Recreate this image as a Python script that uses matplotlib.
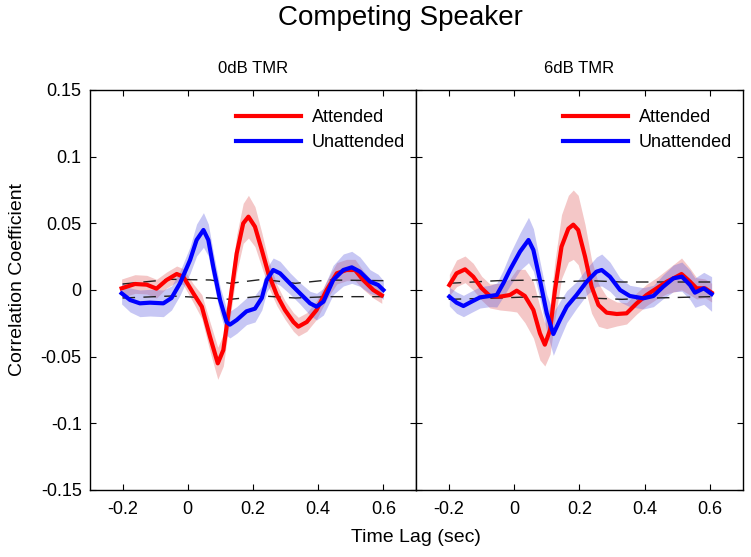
import numpy as np
import matplotlib
matplotlib.use('Agg')
import matplotlib.pyplot as plt

plt.rcParams['font.family'] = ['Liberation Sans', 'DejaVu Sans']

# 0dB TMR panel
t_att_0 = [-0.203, -0.162, -0.126, -0.096, -0.065, -0.034, -0.014, 0.017, 0.043, 0.068,
           0.092, 0.109, 0.129, 0.150, 0.170, 0.186, 0.206, 0.227, 0.247, 0.273,
           0.298, 0.324, 0.339, 0.365, 0.395, 0.426, 0.457, 0.487, 0.513, 0.538,
           0.569, 0.595]
att_0 = [0.00125, 0.0045, 0.004, 0.001, 0.0075, 0.012, 0.010, -0.0025, -0.0125, -0.035,
         -0.055, -0.045, -0.01, 0.0275, 0.05, 0.055, 0.0475, 0.03, 0.0125, -0.00375,
         -0.015, -0.024, -0.0275, -0.024, -0.015, 0.0, 0.0125, 0.015, 0.015, 0.0075,
         0.0, -0.004]
att_0_err = [0.007, 0.007, 0.007, 0.007, 0.006, 0.006, 0.006, 0.007, 0.009, 0.011,
             0.012, 0.012, 0.012, 0.014, 0.015, 0.016, 0.015, 0.013, 0.01, 0.008,
             0.007, 0.007, 0.007, 0.007, 0.007, 0.007, 0.008, 0.008, 0.008, 0.007,
             0.006, 0.006]

t_un_0 = [-0.203, -0.177, -0.147, -0.116, -0.075, -0.05, -0.024, 0.007, 0.027, 0.048,
          0.063, 0.078, 0.099, 0.119, 0.129, 0.150, 0.18, 0.206, 0.227, 0.242,
          0.262, 0.283, 0.313, 0.344, 0.375, 0.395, 0.416, 0.446, 0.477, 0.503,
          0.528, 0.559, 0.584, 0.6]
un_0 = [-0.0025, -0.0075, -0.01, -0.0095, -0.01, -0.006, 0.005, 0.0225, 0.0375, 0.045,
        0.0375, 0.0175, -0.0075, -0.024, -0.026, -0.0225, -0.016, -0.014, -0.006, 0.0075,
        0.015, 0.0125, 0.005, -0.0025, -0.01, -0.0125, -0.00875, 0.0075, 0.015, 0.017,
        0.01375, 0.00625, 0.00375, 0.0]
un_0_err = [0.008, 0.009, 0.01, 0.01, 0.01, 0.009, 0.009, 0.01, 0.012, 0.013,
            0.012, 0.011, 0.01, 0.01, 0.01, 0.01, 0.01, 0.01, 0.009, 0.009,
            0.009, 0.009, 0.008, 0.008, 0.009, 0.01, 0.01, 0.011, 0.012, 0.012,
            0.011, 0.009, 0.008, 0.007]

# 6dB TMR panel
t_att_6 = [-0.198, -0.176, -0.15, -0.125, -0.099, -0.074, -0.043, -0.013, 0.008, 0.033,
           0.059, 0.079, 0.094, 0.11, 0.125, 0.145, 0.166, 0.181, 0.196, 0.217,
           0.237, 0.258, 0.283, 0.314, 0.344, 0.375, 0.405, 0.436, 0.467, 0.497,
           0.512, 0.538, 0.558, 0.584, 0.604]
att_6 = [0.00375, 0.0125, 0.0155, 0.01, 0.00125, -0.0045, -0.005, -0.00375, -0.0005, -0.0045,
         -0.015, -0.0325, -0.041, -0.03, 0.0, 0.0325, 0.046, 0.049, 0.045, 0.025,
         0.0025, -0.01125, -0.017, -0.018, -0.0175, -0.01, -0.00375, 0.00125, 0.00625, 0.01,
         0.012, 0.00625, 0.00125, 0.00125, -0.002]
att_6_err = [0.008, 0.01, 0.01, 0.01, 0.009, 0.009, 0.01, 0.012, 0.016, 0.02,
             0.021, 0.02, 0.016, 0.018, 0.022, 0.024, 0.025, 0.026, 0.026, 0.024,
             0.02, 0.016, 0.012, 0.009, 0.008, 0.008, 0.008, 0.008, 0.009, 0.011,
             0.012, 0.01, 0.008, 0.007, 0.007]

t_un_6 = [-0.198, -0.176, -0.155, -0.13, -0.104, -0.074, -0.053, -0.033, -0.013, 0.018,
          0.044, 0.059, 0.079, 0.1, 0.12, 0.14, 0.161, 0.191, 0.222, 0.252,
          0.268, 0.293, 0.324, 0.354, 0.395, 0.426, 0.456, 0.487, 0.513, 0.538,
          0.553, 0.58, 0.604]
un_6 = [-0.005, -0.0095, -0.012, -0.00875, -0.0055, -0.0045, -0.00375, 0.005, 0.015, 0.02875,
        0.0375, 0.03, 0.0075, -0.0175, -0.033, -0.0225, -0.0125, -0.00375, 0.00625, 0.01375,
        0.015, 0.01, 0.0, -0.0045, -0.00625, -0.0045, 0.0025, 0.00875, 0.01, 0.00375,
        -0.002, 0.00125, -0.003]
un_6_err = [0.007, 0.008, 0.008, 0.008, 0.008, 0.008, 0.009, 0.01, 0.012, 0.014,
            0.017, 0.016, 0.014, 0.014, 0.016, 0.014, 0.012, 0.01, 0.01, 0.011,
            0.012, 0.011, 0.009, 0.008, 0.008, 0.008, 0.009, 0.01, 0.011, 0.011,
            0.011, 0.012, 0.013]

# chance level (dashed)
t_chance = [-0.2, -0.05, 0.07, 0.13, 0.23, 0.33, 0.43, 0.6]
hi_0 = [0.0045, 0.008, 0.0075, 0.005, 0.008, 0.005, 0.0075, 0.007]
lo_0 = [-0.006, -0.0045, -0.006, -0.007, -0.0045, -0.006, -0.005, -0.005]
hi_6 = [0.005, 0.007, 0.0075, 0.006, 0.007, 0.006, 0.006, 0.006]
lo_6 = [-0.007, -0.006, -0.005, -0.006, -0.006, -0.007, -0.006, -0.005]

xticks = [-0.2, 0, 0.2, 0.4, 0.6]
xlabels = ['-0.2', '0', '0.2', '0.4', '0.6']
yticks = [-0.15, -0.1, -0.05, 0, 0.05, 0.1, 0.15]
ylabels = ['-0.15', '-0.1', '-0.05', '0', '0.05', '0.1', '0.15']

W, H = 751, 557
fig = plt.figure(figsize=(W / 100, H / 100), dpi=100)
ax1 = fig.add_axes([90 / W, 1 - 490 / H, 326 / W, 400 / H])
ax2 = fig.add_axes([416 / W, 1 - 490 / H, 327 / W, 400 / H])

panels = [
    (ax1, '0dB TMR', t_att_0, att_0, att_0_err, t_un_0, un_0, un_0_err, hi_0, lo_0),
    (ax2, '6dB TMR', t_att_6, att_6, att_6_err, t_un_6, un_6, un_6_err, hi_6, lo_6),
]

for ax, title, ta, a, ae, tu, u, ue, hi, lo in panels:
    a, ae, u, ue = map(np.array, (a, ae, u, ue))
    ax.fill_between(ta, a - ae, a + ae, color='#e06060', alpha=0.35, lw=0)
    ax.fill_between(tu, u - ue, u + ue, color='#6060e0', alpha=0.35, lw=0)
    ax.plot(t_chance, hi, color='#222222', lw=1.0, dashes=(9, 6))
    ax.plot(t_chance, lo, color='#222222', lw=1.0, dashes=(9, 6))
    ax.plot(ta, a, color='red', lw=3, label='Attended')
    ax.plot(tu, u, color='blue', lw=3, label='Unattended')

    ax.set_xlim(-0.3, 0.7)
    ax.set_ylim(-0.15, 0.15)
    ax.set_xticks(xticks)
    ax.set_xticklabels(xlabels)
    ax.set_yticks(yticks)
    ax.tick_params(direction='in', length=4, top=True, right=True, labelsize=13, width=0.8)
    ax.tick_params(axis='x', pad=8)
    ax.tick_params(axis='y', pad=6)
    ax.set_title(title, fontsize=12, pad=12)
    for s in ax.spines.values():
        s.set_linewidth(1.0)
    ax.legend(loc='upper right', bbox_to_anchor=(1.0, 0.98), frameon=False, fontsize=13,
              handlelength=3.6, handletextpad=0.6, labelspacing=0.45, borderaxespad=0.2)

ax1.set_yticklabels(ylabels)
ax2.set_yticklabels([])

fig.text(400 / W, 1 - 18 / H, 'Competing Speaker', fontsize=20, ha='center', va='center')
fig.text(416 / W, 1 - 537 / H, 'Time Lag (sec)', fontsize=14, ha='center', va='center')
fig.text(18 / W, 1 - 279 / H, 'Correlation Coefficient', fontsize=14, ha='center',
         va='center', rotation=90)

fig.savefig('out.png', dpi=100)
